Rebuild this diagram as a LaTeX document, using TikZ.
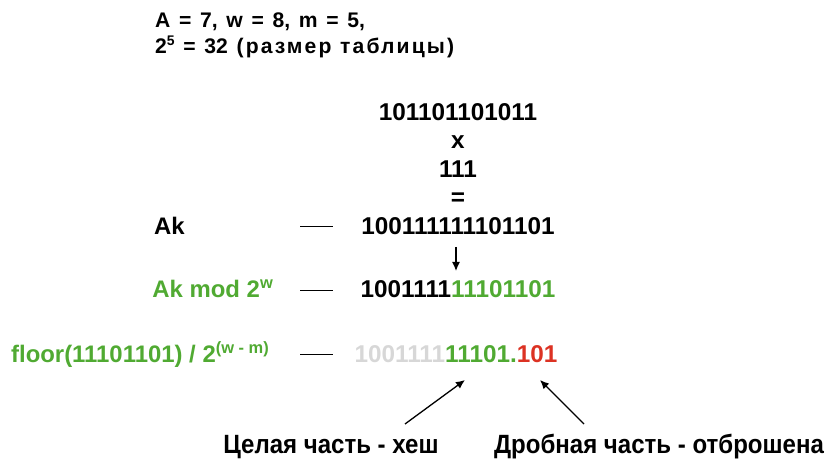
\documentclass[tikz,border=0pt]{standalone}
\usepackage{fontspec}
\setmainfont{Liberation Sans}
\usetikzlibrary{arrows.meta}
\definecolor{hashgreen}{RGB}{80,170,50}
\definecolor{cutred}{RGB}{220,50,35}
\definecolor{dropgrey}{RGB}{215,215,215}
\newcommand\headfont{\fontsize{21.2}{24}\selectfont\bfseries\spaceskip 8.7bp\relax}
\newcommand\upidx[2][16.5]{\raisebox{0.4em}{\fontsize{#1}{18}\selectfont\bfseries\spaceskip 0pt\relax #2}}
\begin{document}
\begin{tikzpicture}[x=1bp,y=-1bp,
    head/.style={font=\headfont, inner sep=0pt, anchor=base west},
    bits/.style={font=\fontsize{24.4}{28}\selectfont\bfseries, inner sep=0pt, anchor=base},
    rowlbl/.style={font=\fontsize{24}{28}\selectfont\bfseries, inner sep=0pt, anchor=base east},
    note/.style={font=\fontsize{26.5}{30}\selectfont\bfseries, inner sep=0pt, anchor=base, xscale=0.91},
    tie/.style={line width=0.8bp},
    pointer/.style={line width=1.3bp, -{Latex[length=9bp,width=8bp]}}]
    \useasboundingbox (0,0) rectangle (832,462);

    % parameters
    \node[head] (params) at (155,28) {A = 7, w = 8, m = 5,};
    \node[head] (size) at (155,54) {2\upidx[14]{5} = 32 {\addfontfeature{LetterSpace=10}(размер таблицы)}};

    % multiplication
    \node[bits] (key) at (458,121) {101101101011};
    \node[bits] (times) at (458,149) {x};
    \node[bits] (mult) at (458,178) {111};
    \node[bits] (equals) at (458,206) {=};
    \node[bits] (prod) at (458,235) {100111111101101};
    \node[rowlbl, anchor=base west] (aklbl) at (154,235) {Ak};
    \draw[tie] (300,226) -- (333,226);

    \draw[pointer] (456,247) -- (456,271);

    % mod 2^w
    \node[bits] (modval) at (458,298) {1001111\textcolor{hashgreen}{11101101}};
    \node[rowlbl, text=hashgreen] (modlbl) at (273,298) {Ak mod 2\upidx{w}};
    \draw[tie] (300,290) -- (333,290);

    % shift
    \node[bits] (hash) at (456,363) {\textcolor{dropgrey}{1001111}\textcolor{hashgreen}{11101.}\textcolor{cutred}{101}};
    \node[rowlbl, text=hashgreen] (floorlbl) at (269,363) {floor(11101101) / 2\upidx{(w - m)}};
    \draw[tie] (300,354) -- (333,354);

    % notes
    \node[note] (intpart) at (331,453) {Целая часть - хеш};
    \node[note] (fracpart) at (659,453) {Дробная часть - отброшена};
    \coordinate (inttip) at (465,380);
    \coordinate (fractip) at (540,380);
    \draw[pointer] (405,424) -- (inttip);
    \draw[pointer] (584,424) -- (fractip);
\end{tikzpicture}
\end{document}
